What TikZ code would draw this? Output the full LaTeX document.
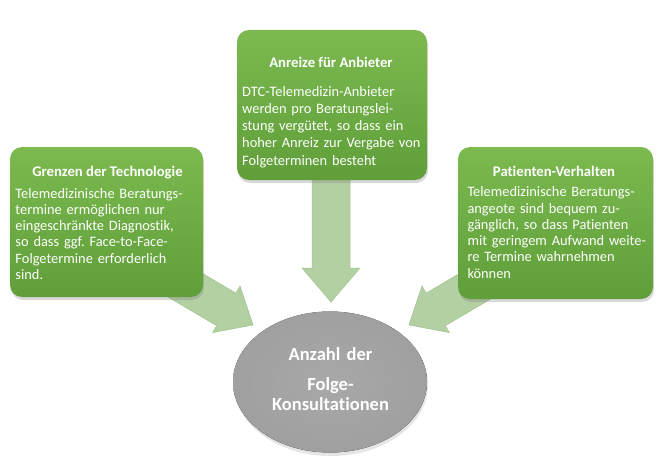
\documentclass[tikz,border=0pt]{standalone}
\usepackage{fontspec}
\setmainfont{Carlito}[Ligatures=NoCommon]
\usetikzlibrary{shadows}
\definecolor{boxtop}{HTML}{7CBA50}
\definecolor{boxbot}{HTML}{5F9E39}
\definecolor{arrowfill}{HTML}{B3D0A2}
\definecolor{arrowedge}{HTML}{A0C28E}
\definecolor{ellfill}{HTML}{A8A8A8}
\definecolor{elledge}{HTML}{A0A0A0}
\begin{document}
\frenchspacing
\begin{tikzpicture}[x=1pt,y=-1pt,
  greenbox/.style={rectangle, rounded corners=12pt, top color=boxtop, bottom color=boxbot, draw=none,
    drop shadow={opacity=0.3, shadow xshift=1pt, shadow yshift=-3pt}},
  arrowshape/.style={fill=arrowfill, draw=arrowedge, line width=0.5pt},
  titletext/.style={font=\fontsize{14.7}{17}\selectfont\bfseries, text=white, inner sep=0pt, anchor=base},
  bodytext/.style={text=white, align=left, text width=200pt, inner sep=0pt, anchor=base west},
]
\useasboundingbox (0,0) rectangle (662,460);

% arrows (behind boxes)
\path[arrowshape] (312,175) -- (350,175) -- (350,268) -- (360,268) -- (331,302) -- (302,268) -- (312,268) -- cycle;
\path[arrowshape] (166.9,252.3) -- (235.9,293.2) -- (240,286) -- (253,325) -- (212.6,332.6) -- (216.7,325.7) -- (147.7,285.1) -- cycle;
\path[arrowshape] (495.1,252.3) -- (426.1,293.2) -- (422,286) -- (409,325) -- (449.4,332.6) -- (445.3,325.7) -- (514.3,285.1) -- cycle;

% boxes
\node[greenbox, minimum width=190pt, minimum height=150pt] (top) at (332,105) {};
\node[greenbox, minimum width=193pt, minimum height=150pt] (left) at (106.5,222) {};
\node[greenbox, minimum width=195pt, minimum height=152pt] (right) at (555.5,223) {};

% ellipse
\fill[black, opacity=0.1] (331,385) ellipse [x radius=97pt, y radius=71pt];
\fill[inner color=ellfill, outer color=elledge] (330,382) ellipse [x radius=97pt, y radius=70.5pt];
\coordinate (ell) at (330,382);

% titles
\node[titletext] (toptitle) at (331,67.7) {Anreize für Anbieter};
\node[titletext] (lefttitle) at (107.5,176.7) {Grenzen der Technologie};
\node[titletext] (righttitle) at (554,176.7) {Patienten-Verhalten};

% body texts
\node[bodytext, font=\fontsize{14.4}{17.3}\selectfont] (topbody) at (242,96)
  {DTC-Telemedizin-Anbieter\\werden pro Beratungslei-\\stung vergütet, so dass ein\\hoher Anreiz zur Vergabe von\\Folgeterminen besteht};
\node[bodytext, font=\fontsize{14.4}{16.2}\selectfont] (leftbody) at (15.3,198.3)
  {Telemedizinische Beratungs-\\termine ermöglichen nur\\eingeschränkte Diagnostik,\\so dass ggf. Face-to-Face-\\Folgetermine erforderlich\\sind.};
\node[bodytext, font=\fontsize{14.4}{16.3}\selectfont] (rightbody) at (467.3,196.7)
  {Telemedizinische Beratungs-\\angeote sind bequem zu-\\gänglich, so dass Patienten\\mit geringem Aufwand weite-\\re Termine wahrnehmen\\können};

% ellipse text
\node[text=white, font=\fontsize{18.5}{20}\selectfont\bfseries, align=center, text width=150pt, inner sep=0pt, anchor=base] (elltext) at (330.5,360.5)
  {Anzahl der\\[9.5pt]Folge-\\Konsultationen};
\end{tikzpicture}
\end{document}
